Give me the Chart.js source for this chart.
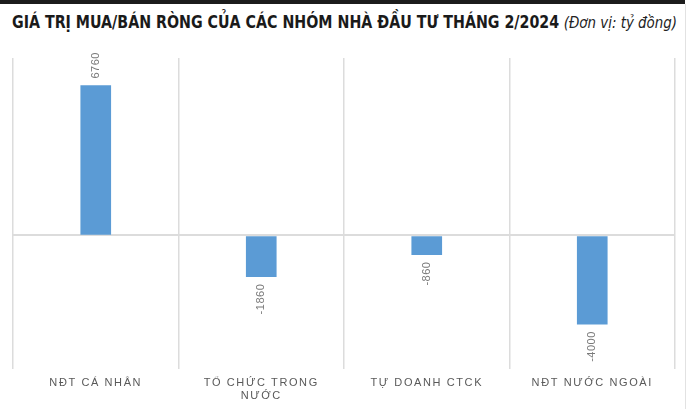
<!DOCTYPE html>
<html>
<head>
<meta charset="utf-8">
<script src="https://cdn.jsdelivr.net/npm/chart.js@4.4.1/dist/chart.umd.min.js"></script>
<style>
  html, body { margin: 0; padding: 0; background: #fff; }
  #wrap { position: relative; width: 690px; height: 409px; overflow: hidden; }
  #topbar { position: absolute; left: 0; top: 0; width: 685px; height: 4px; background: #1c1c1c; }
  #edge { position: absolute; left: 685px; top: 4px; width: 1px; height: 405px; background: #e2e2e2; }
  #title { position: absolute; left: 12px; top: 12px; white-space: nowrap; transform-origin: 0 0;
           font-family: "Liberation Sans Narrow", "DejaVu Sans Condensed", "Liberation Sans", sans-serif;
           font-size: 17px; line-height: 20px; color: #1a1a1a; }
  #title b { font-weight: bold; }
  #title i { font-weight: normal; font-size: 16px; color: #222; }
  canvas { position: absolute; left: 0; top: 0; }
</style>
</head>
<body>
<div id="wrap">
  <div id="topbar"></div>
  <div id="edge"></div>
  <div id="title"><b>GIÁ TRỊ MUA/BÁN RÒNG CỦA CÁC NHÓM NHÀ ĐẦU TƯ THÁNG 2/2024</b> <i>(Đơn vị: tỷ đồng)</i></div>
  <canvas id="netChart" width="690" height="409"></canvas>
</div>
<script>
// nhom nha dau tu
const categories = ['NĐT CÁ NHÂN', ['TỔ CHỨC TRONG', 'NƯỚC'], 'TỰ DOANH CTCK', 'NĐT NƯỚC NGOÀI'];
// gia tri mua/ban rong (ty dong)
const netValues = [6760, -1860, -860, -4000];
const valueLabels = ['6760', '-1860', '-860', '-4000'];

// fit title width to the reference
const title = document.getElementById('title');
const tw = title.getBoundingClientRect().width;
title.style.transform = 'scaleX(' + (665 / tw) + ')';

// nhan gia tri xoay doc
const barLabels = {
    id: 'barLabels',
    beforeDraw(chart) {
        chart.ctx.letterSpacing = '1.6px';
    },
    afterDatasetsDraw(chart) {
        const ctx = chart.ctx;
        const meta = chart.getDatasetMeta(0);
        ctx.save();
        ctx.letterSpacing = '0.5px';
        ctx.font = '11px "Liberation Sans", Arial, sans-serif';
        ctx.fillStyle = '#7a7a7a';
        ctx.textBaseline = 'middle';
        meta.data.forEach((bar, i) => {
            const v = netValues[i];
            ctx.save();
            if (v >= 0) {
                ctx.translate(bar.x, bar.y - 7);
                ctx.rotate(-Math.PI / 2);
                ctx.textAlign = 'left';
            } else {
                ctx.translate(bar.x, bar.y + 7);
                ctx.rotate(-Math.PI / 2);
                ctx.textAlign = 'right';
            }
            ctx.fillText(valueLabels[i], 0, 0);
            ctx.restore();
        });
        ctx.restore();
    }
};

const ctx = document.getElementById('netChart').getContext('2d');
const netChart = new Chart(ctx, {
    type: 'bar',
    data: {
        labels: categories,
        datasets: [{
            data: netValues,
            backgroundColor: '#5b9bd5',
            borderWidth: 0,
            barThickness: 30
        }]
    },
    options: {
        responsive: false,
        animation: false,
        layout: { padding: { top: 58, left: 13, right: 15, bottom: -2 } },
        plugins: { legend: { display: false }, tooltip: { enabled: false } },
        scales: {
            x: {
                grid: { color: '#dcdcdc', lineWidth: 1.5, drawTicks: false },
                border: { display: false },
                ticks: {
                    color: '#595959',
                    padding: 8,
                    maxRotation: 0,
                    autoSkip: false,
                    font: { family: '"Liberation Sans", Arial, sans-serif', size: 11, lineHeight: 1.2 }
                }
            },
            y: {
                min: -6000,
                max: 8000,
                ticks: { display: false, stepSize: 2000 },
                grid: {
                    drawTicks: false,
                    lineWidth: 2,
                    color: (c) => (c.tick && c.tick.value === 0) ? '#dcdcdc' : 'rgba(0,0,0,0)'
                },
                border: { display: false }
            }
        }
    },
    plugins: [barLabels]
});
</script>
</body>
</html>
